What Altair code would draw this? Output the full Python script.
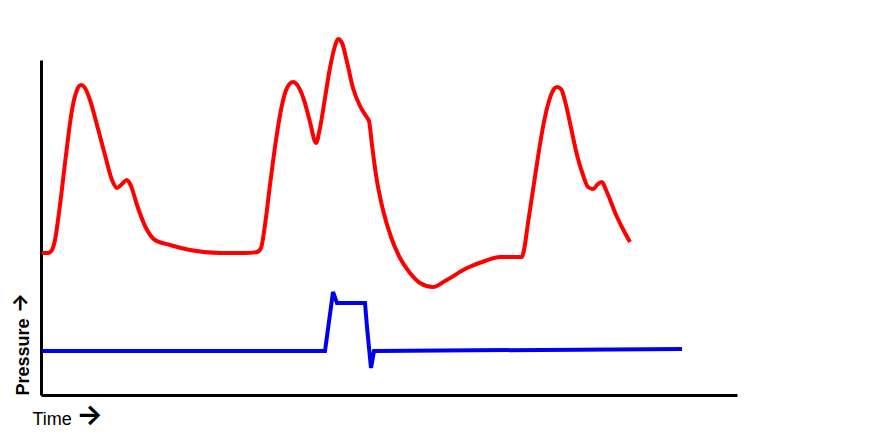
import altair as alt
import pandas as pd

# Red (arterial-like) pressure trace: (time, pressure)
red_points = [
    (1, 142), (7, 142), (11, 145), (14, 155), (19, 190), (25, 240), (31, 285), (36, 305), (40, 310),
    (44, 307), (49, 295), (56, 270), (64, 240), (71, 215), (76, 207), (80, 210), (86, 215), (90, 209),
    (96, 190), (105, 167), (114, 155), (129, 150), (149, 145), (179, 142), (204, 142), (216, 143),
    (220, 147), (224, 170), (229, 210), (235, 255), (241, 290), (246, 307), (252, 313), (257, 309),
    (263, 295), (269, 273), (275, 252), (279, 267), (284, 297), (289, 327), (294, 349), (297, 356),
    (301, 352), (306, 333), (312, 307), (319, 289), (325, 279), (328, 274), (331, 250), (335, 220),
    (342, 185), (350, 158), (359, 137), (369, 122), (379, 112), (392, 108), (404, 114), (426, 127),
    (444, 134), (459, 138), (474, 138), (481, 138), (483, 145), (487, 172), (492, 205), (497, 238),
    (502, 268), (508, 294), (513, 306), (516, 308), (520, 306), (525, 290), (529, 272), (536, 240),
    (542, 220), (547, 208), (552, 206), (557, 211), (561, 213), (565, 205), (576, 178), (584, 162),
    (589, 153),
]
red_t = [t for t, _ in red_points]
red_p = [p for _, p in red_points]

# Blue (ventricular-like) pressure trace
blue_t = [1, 284, 292, 296, 324, 326, 330, 333, 641]
blue_p = [44, 44, 103, 92, 92, 68, 27, 44, 46]

x_title = "Time"
y_title = "Pressure"
arrow = "→"

red = pd.DataFrame({"time": red_t, "pressure": red_p})
red["order"] = range(len(red))
blue = pd.DataFrame({"time": blue_t, "pressure": blue_p})
blue["order"] = range(len(blue))

x_enc = alt.X("time:Q", scale=alt.Scale(domain=[0, 696], nice=False, zero=False),
              axis=alt.Axis(title=x_title, labels=False, ticks=False, grid=False,
                            domainColor="black", domainWidth=3,
                            titleFont="Liberation Sans", titleFontSize=18, titleFontWeight="normal",
                            titleColor="black", titleAlign="left", titleAnchor="start",
                            titleX=-9, titleY=29, titleBaseline="alphabetic"))
y_enc = alt.Y("pressure:Q", scale=alt.Scale(domain=[0, 335], nice=False, zero=False),
              axis=alt.Axis(title=y_title, labels=False, ticks=False, grid=False,
                            domainColor="black", domainWidth=3,
                            titleFont="Liberation Sans", titleFontSize=18, titleFontWeight="bold",
                            titleColor="black", titleAngle=270, titleAlign="left", titleAnchor="start",
                            titleX=-13, titleY=335, titleBaseline="alphabetic"))

red_line = alt.Chart(red).mark_line(color="#ff0000", strokeWidth=4, interpolate="monotone").encode(
    x=x_enc, y=y_enc, order="order:Q")
blue_line = alt.Chart(blue).mark_line(color="#0000ee", strokeWidth=4, interpolate="linear").encode(
    x=x_enc, y=y_enc, order="order:Q")

arrow_df = pd.DataFrame({"a": [arrow]})
x_arrow = alt.Chart(arrow_df).mark_text(
    font="Inter", fontSize=28, fontWeight="bold", color="black",
    align="center", baseline="middle").encode(
    text="a:N", x=alt.value(48.5), y=alt.value(356))
y_arrow = alt.Chart(arrow_df).mark_text(
    font="Inter", fontSize=21, fontWeight="bold", color="black",
    align="center", baseline="middle", angle=270).encode(
    text="a:N", x=alt.value(-20), y=alt.value(243))

chart = alt.layer(red_line, blue_line, x_arrow, y_arrow).properties(
    width=696, height=335,
    autosize=alt.AutoSizeParams(type="none"),
    padding={"left": 33, "top": 52, "right": 20, "bottom": 40},
).configure(background="white").configure_view(strokeWidth=0, stroke=None)

chart.save("out.html", embed_options={"renderer": "svg", "actions": False})
